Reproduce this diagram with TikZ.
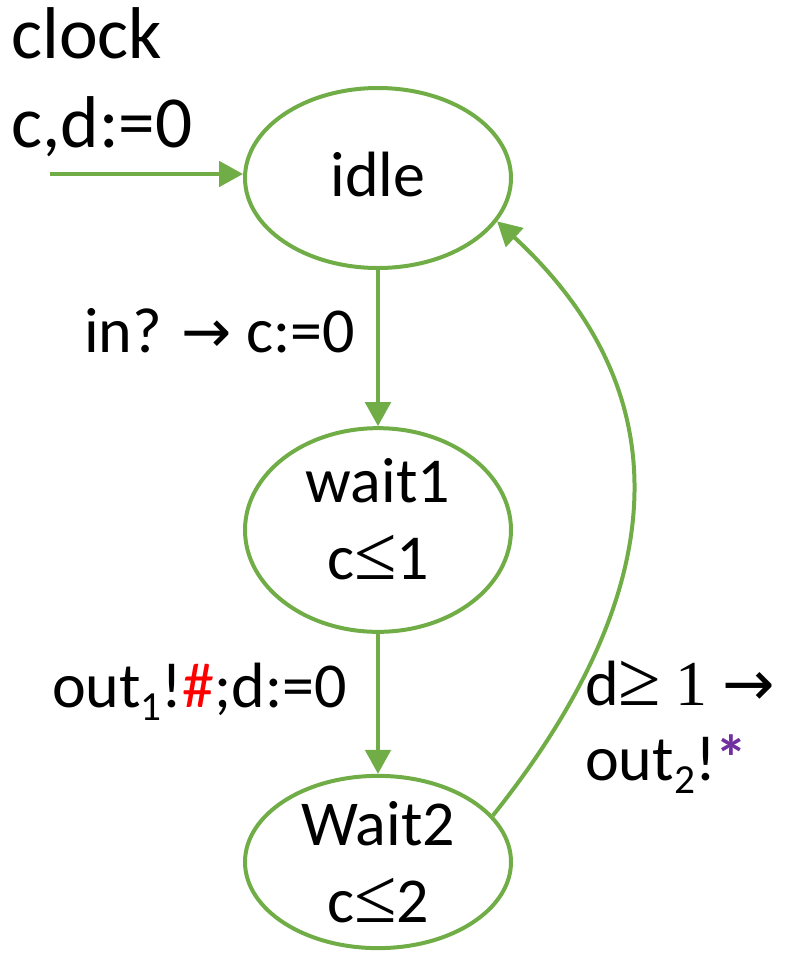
\documentclass[tikz,border=0pt]{standalone}
\usepackage{fontspec}
\setmainfont{Carlito}
\newfontfamily\relfont{Liberation Serif}
\newfontfamily\arrfont{DejaVu Sans}
\usetikzlibrary{shapes.geometric,arrows.meta,positioning}
\definecolor{stgreen}{RGB}{112,173,71}
\definecolor{sharpred}{RGB}{255,0,0}
\definecolor{starpurple}{RGB}{112,48,160}
% small lowered index, as in out_1
\newcommand{\subidx}[1]{\raisebox{-10pt}{\fontsize{31}{31}\selectfont #1}}
% relation signs set a bit larger, serif
\newcommand{\rel}[1]{{\fontsize{58}{58}\relfont #1}}
% thin arrow of a guard/update
\newcommand{\imp}[1]{{\fontsize{#1}{#1}\arrfont →}}

\begin{document}
\begin{tikzpicture}[
    x=0.75pt, y=-0.75pt,
    every node/.style={font=\fontsize{48}{54}\selectfont, inner sep=0pt},
    state/.style={ellipse, draw=stgreen, line width=3pt, minimum width=199.5pt, align=center},
    trans/.style={-{Triangle[length=18pt,width=19pt]}, draw=stgreen, line width=3pt},
    bigtxt/.style={anchor=base west, font=\fontsize{55}{60}\selectfont},
]
\useasboundingbox (0,0) rectangle (795,958);

% ========== STATES ==========
\node[state, minimum height=135pt] (idle) at (378,178) {idle\rule[-6pt]{0pt}{0pt}};
\node[state, minimum height=127pt] (wait1) at (378,530) {wait1\\[4pt]c\rel{≤}1\rule[-17pt]{0pt}{0pt}};
\node[state, minimum height=125pt] (wait2) at (378,862) {Wait2\\[4pt]c\rel{≤}2};

% ========== INITIAL ==========
\node[bigtxt] (clk) at (11,58) {clock};
\node[bigtxt] (init) at (11,147) {c,d:=0};
\coordinate (start) at (50,174);
\draw[trans] (start) -- (start -| idle.west);

% ========== TRANSITIONS ==========
\draw[trans] (idle) -- (wait1);
\node[anchor=base east] (t1) at (355,352) {in? \imp{45} c:=0};

\draw[trans] (wait1) -- (wait2);
\node[anchor=base east] (t2) at (347,707) {out\subidx{1}!\textcolor{sharpred}{\#};d:=0};

\draw[trans] (wait2.22) .. controls (665,600) and (690,400) .. (idle.-20);
\node[anchor=base west] (t3) at (585,705) {d\rel{≥} {\relfont 1} \imp{47}};
\node[anchor=base west] (t4) at (585,780) {out\subidx{2}!\textcolor{starpurple}{\textbf{*}}};

\end{tikzpicture}
\end{document}
